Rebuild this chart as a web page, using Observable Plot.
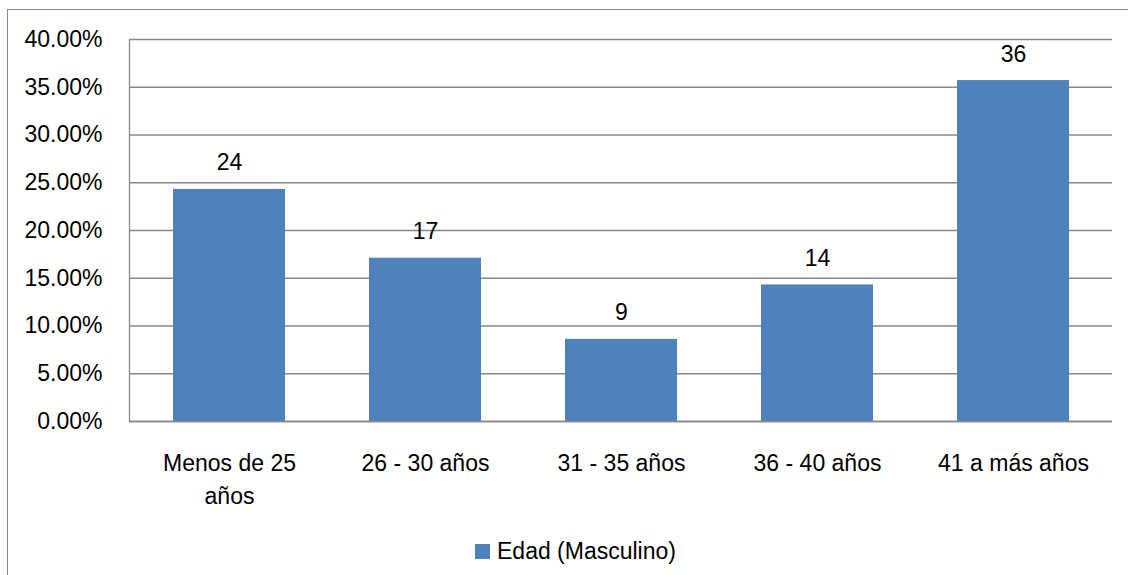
<!DOCTYPE html>
<html>
<head>
<meta charset="utf-8">
<script src="https://cdn.jsdelivr.net/npm/d3@7"></script>
<script src="https://cdn.jsdelivr.net/npm/@observablehq/plot@0.6"></script>
<style>
  html, body { margin: 0; padding: 0; background: #fff; }
  #wrap { position: relative; width: 1128px; height: 575px; overflow: hidden; font-family: "Liberation Sans", Arial, sans-serif; }
  #border { position: absolute; left: 7px; top: 9px; width: 1300px; height: 800px; border: 1.5px solid #8a8a8a; box-sizing: border-box; }
  #chart { position: absolute; left: 0; top: 0; }
  #legend { position: absolute; left: 0; top: 525px; width: 1128px; height: 50px; }
  .item { position: absolute; left: 475px; top: 13px; display: flex; align-items: center; font-size: 23px; color: #000; }
  .swatch { width: 15px; height: 15px; background: #4F81BD; margin-right: 7px; }
</style>
</head>
<body>
<div id="wrap">
  <div id="border"></div>
  <div id="chart"></div>
  <div id="legend"></div>
</div>
<script>
const categories = ["Menos de 25\naños", "26 - 30 años", "31 - 35 años", "36 - 40 años", "41 a más años"];
const shares = [0.243, 0.171, 0.086, 0.143, 0.357];
const labels = ["24", "17", "9", "14", "36"];
const yTicks = [0, 0.05, 0.10, 0.15, 0.20, 0.25, 0.30, 0.35, 0.40];
const seriesName = "Edad (Masculino)";

const data = categories.map((c, i) => ({cat: c, v: shares[i], label: labels[i]}));
const grid = "#878787";

const chart = Plot.plot({
  width: 1128,
  height: 525,
  marginTop: 39,
  marginLeft: 129,
  marginRight: 16,
  marginBottom: 104,
  style: {fontFamily: "'Liberation Sans', Arial, sans-serif", fontSize: "23px", color: "#000", background: "transparent"},
  x: {domain: categories, paddingInner: 0.43, paddingOuter: 0.215, label: null},
  y: {domain: [0, 0.40], label: null},
  marks: [
    Plot.ruleY(yTicks, {stroke: grid, strokeWidth: 1.3}),
    Plot.frame({anchor: "left", stroke: grid, strokeWidth: 1.3}),
    Plot.barY(data, {x: "cat", y: "v", fill: "#4F81BD"}),
    Plot.ruleY([0], {stroke: grid, strokeWidth: 1.3}),
    Plot.text(data, {x: "cat", y: "v", text: "label", lineAnchor: "bottom", dy: -19, fill: "#000", fontSize: 23}),
    Plot.axisY({ticks: yTicks, tickSize: 0, tickPadding: 27, tickFormat: d => (d * 100).toFixed(2) + "%", fontSize: 23, fill: "#000", label: null}),
    Plot.axisX({tickSize: 0, tickPadding: 26, fontSize: 23, fill: "#000", lineHeight: 1.43, label: null})
  ]
});
document.getElementById("chart").appendChild(chart);

const legend = document.getElementById("legend");
const item = document.createElement("div");
item.className = "item";
const sw = document.createElement("div");
sw.className = "swatch";
const tx = document.createElement("span");
tx.textContent = seriesName;
item.appendChild(sw);
item.appendChild(tx);
legend.appendChild(item);
</script>
</body>
</html>
